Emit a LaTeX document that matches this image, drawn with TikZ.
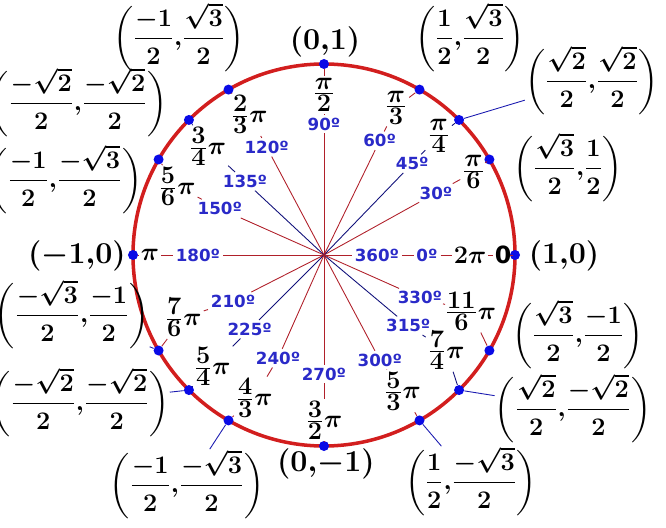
\documentclass[tikz,border=0pt]{standalone}
\usepackage{amsmath,amssymb}
\usepackage{fontspec}
\usepackage{tikz}
\usetikzlibrary{positioning}
\usepackage{xcolor}
\newfontfamily\degfont{DejaVu Sans}
\newcommand{\radfrac}[2]{{\textstyle\frac{\textstyle #1}{\textstyle #2}}}
\newcommand{\pt}[2]{{\nulldelimiterspace=0pt\bigg(\dfrac{#1}{2}{,}\dfrac{#2}{2}\bigg)}}
\definecolor{circred}{HTML}{D21E1E}
\definecolor{rayred}{HTML}{B0202A}
\definecolor{raynavy}{HTML}{10107A}
\definecolor{degblue}{HTML}{2A2AC8}
\definecolor{dotblue}{HTML}{0A0AE6}
\definecolor{linkblue}{HTML}{1A1AB0}
\tikzset{
  ptdot/.style={circle,fill=dotblue,inner sep=0pt,minimum size=2mm},
  deglabel/.style={text=degblue,font=\degfont\bfseries\fontsize{9.5}{10}\selectfont,inner sep=1.5pt},
  radlabel/.style={font=\fontsize{13.5}{15}\selectfont\boldmath,inner sep=1pt},
  coordlabel/.style={font=\fontsize{15.5}{18}\selectfont\boldmath,inner sep=0pt},
  axislabel/.style={font=\LARGE\boldmath,inner sep=0pt}
}
\tikzset{
  redray/.style={draw=rayred,line width=0.5pt},
  blueray/.style={draw=raynavy,line width=0.5pt},
  link/.style={draw=linkblue,line width=0.5pt}
}

\begin{document}
\begin{tikzpicture}
\useasboundingbox (-6.48,-5.44) rectangle (6.84,5.10);
\coordinate (O) at (0,0);
\draw[circred,line width=2pt] (O) circle (3.82);
\foreach \a in {0,30,45,60,90,120,135,150,180,210,225,240,270,300,315,330}
  \node[ptdot] (p\a) at (\a:3.82) {};

% degrees
\node[deglabel] (d360) at (0:1.06) {360º};
\node[deglabel] (d0) at (0:2.06) {0º};
\node[deglabel] (d30) at (29:2.56) {30º};
\node[deglabel] (d45) at (46:2.54) {45º};
\node[deglabel] (d60) at (64:2.54) {60º};
\node[deglabel] (d90) at (90:2.62) {90º};
\node[deglabel] (d120) at (118:2.44) {120º};
\node[deglabel] (d135) at (137:2.16) {135º};
\node[deglabel] (d150) at (156:2.28) {150º};
\node[deglabel] (d180) at (180:2.52) {180º};
\node[deglabel] (d210) at (207:2.04) {210º};
\node[deglabel] (d225) at (225:2.10) {225º};
\node[deglabel] (d240) at (246:2.26) {240º};
\node[deglabel] (d270) at (270:2.38) {270º};
\node[deglabel] (d300) at (298:2.38) {300º};
\node[deglabel] (d315) at (320:2.20) {315º};
\node[deglabel] (d330) at (336:2.10) {330º};

% radians
\node[radlabel] (r0) at (0:2.92) {$2\pi$};
\node[font=\degfont\bfseries\fontsize{13.5}{15}\selectfont,inner sep=1pt] (z0) at (0:3.58) {0};
\node[radlabel] (r30) at (29:3.42) {$\radfrac{\pi}{6}$};
\node[radlabel] (r45) at (46:3.30) {$\radfrac{\pi}{4}$};
\node[radlabel] (r60) at (64:3.28) {$\radfrac{\pi}{3}$};
\node[radlabel] (r90) at (90:3.20) {$\radfrac{\pi}{2}$};
\node[radlabel] (r120) at (118:3.18) {$\radfrac{2}{3}\pi$};
\node[radlabel] (r135) at (137:3.18) {$\radfrac{3}{4}\pi$};
\node[radlabel] (r150) at (155:3.24) {$\radfrac{5}{6}\pi$};
\node[radlabel] (r180) at (180:3.48) {$\pi$};
\node[radlabel] (r210) at (204:3.08) {$\radfrac{7}{6}\pi$};
\node[radlabel] (r225) at (225:3.16) {$\radfrac{5}{4}\pi$};
\node[radlabel] (r240) at (244:3.18) {$\radfrac{4}{3}\pi$};
\node[radlabel] (r270) at (270:3.30) {$\radfrac{3}{2}\pi$};
\node[radlabel] (r300) at (300:3.14) {$\radfrac{5}{3}\pi$};
\node[radlabel] (r315) at (322:3.10) {$\radfrac{7}{4}\pi$};
\node[radlabel] (r330) at (339:3.14) {$\radfrac{11}{6}\pi$};

% coordinates
\node[axislabel] (q90) at (0.02,4.26) {$(0{,}1)$};
\node[coordlabel] (q60) at (2.92,4.36) {$\pt{1}{\sqrt{3}}$};
\node[coordlabel] (q45) at (5.36,3.50) {$\pt{\sqrt{2}}{\sqrt{2}}$};
\node[coordlabel] (q30) at (4.88,1.76) {$\pt{\sqrt{3}}{1}$};
\node[axislabel] (q0) at (4.80,-0.02) {$(1{,}0)$};
\node[coordlabel] (q120) at (-2.90,4.36) {$\pt{-1}{\sqrt{3}}$};
\node[coordlabel] (q135) at (-4.92,3.06) {$\pt{-\sqrt{2}}{-\sqrt{2}}$};
\node[coordlabel] (q150) at (-5.18,1.52) {$\pt{-1}{-\sqrt{3}}$};
\node[axislabel] (q180) at (-4.94,-0.02) {$(-1{,}0)$};
\node[coordlabel] (q210) at (-5.04,-1.18) {$\pt{-\sqrt{3}}{-1}$};
\node[coordlabel] (q225) at (-4.88,-2.94) {$\pt{-\sqrt{2}}{-\sqrt{2}}$};
\node[coordlabel] (q240) at (-2.74,-4.58) {$\pt{-1}{-\sqrt{3}}$};
\node[axislabel] (q270) at (0.04,-4.18) {$(0{,}{-1})$};
\node[coordlabel] (q300) at (2.94,-4.52) {$\pt{1}{-\sqrt{3}}$};
\node[coordlabel] (q315) at (4.98,-3.06) {$\pt{\sqrt{2}}{-\sqrt{2}}$};
\node[coordlabel] (q330) at (5.08,-1.58) {$\pt{\sqrt{3}}{-1}$};

% spokes
\draw[redray] (O) -- (d360) -- (d0) -- (r0) -- (z0) -- (p0);
\foreach \a/\s in {30/redray,45/blueray,60/redray,90/redray,120/redray,135/blueray,
    150/redray,180/redray,210/redray,225/blueray,240/redray,270/redray,
    300/redray,315/blueray,330/redray}
  \draw[\s] (O) -- (d\a) -- (r\a) -- (p\a);

% links to the coordinates
\foreach \a in {45,210,225,240,300,315}
  \draw[link] (p\a) -- (q\a);
\end{tikzpicture}
\end{document}
